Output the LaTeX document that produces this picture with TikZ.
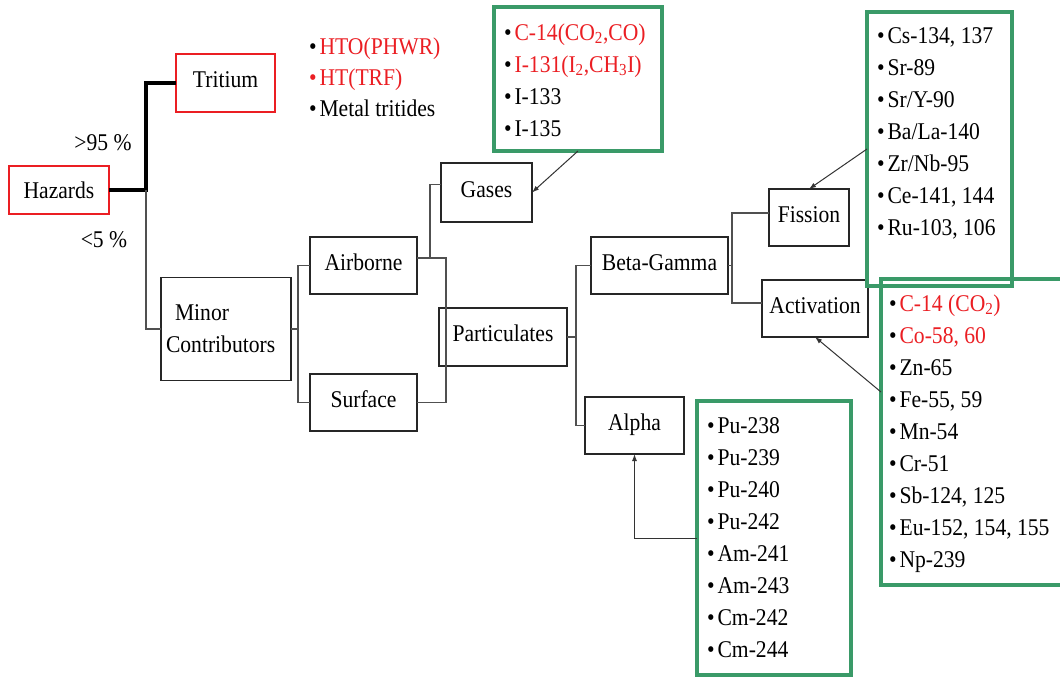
\documentclass[tikz,border=0pt]{standalone}
\usepackage{fontspec}
\setmainfont{Liberation Serif}[FakeStretch=0.9]
\usetikzlibrary{arrows.meta}
\definecolor{boxgreen}{RGB}{58,154,104}
\definecolor{hred}{RGB}{235,30,35}
\definecolor{lgray}{RGB}{80,80,80}
\tikzset{
  every node/.style={font=\fontsize{24}{32}\selectfont, inner sep=0pt, outer sep=0pt},
  box/.style={draw=black!85, line width=1.2pt, rectangle},
  hightext/.style={text height=17pt, text depth=8pt},
  redbox/.style={draw=hred, line width=1.2pt, rectangle},
  gbox/.style={draw=boxgreen, line width=3.2pt, rectangle},
  listtxt/.style={anchor=north west, align=left},
  conn/.style={draw=lgray, line width=1.3pt},
  thickconn/.style={draw=black, line width=3.8pt},
  arr/.style={draw=black!80, line width=1pt, -{Latex[length=7pt,width=5pt]}}
}
\begin{document}
\begin{tikzpicture}[x=1pt,y=-1pt]
\useasboundingbox (0,0) rectangle (1060,678);
\clip (0,0) rectangle (1060,678);
\fill[white] (0,0) rectangle (1060,678);

% main boxes
\node[redbox, minimum width=100pt, minimum height=48pt] (haz) at (59,190) {Hazards};
\node[redbox, hightext, minimum width=99pt, minimum height=58pt] (trit) at (225.5,83) {Tritium};
\node[box, minimum width=130pt, minimum height=103pt, text width=120pt, align=left] (minor) at (226,329) {\hspace*{9pt}Minor\\Contributors};
\node[box, hightext, minimum width=107pt, minimum height=57pt] (air) at (363.5,265.5) {Airborne};
\node[box, hightext, minimum width=107pt, minimum height=57pt] (surf) at (363.5,402.5) {Surface};
\node[box, hightext, minimum width=91pt, minimum height=59pt] (gas) at (486.5,192.5) {Gases};
\node[box, hightext, minimum width=128pt, minimum height=58pt] (part) at (503,337) {Particulates};
\node[box, hightext, minimum width=137pt, minimum height=57pt] (beta) at (659.5,265.5) {Beta-Gamma};
\node[box, hightext, minimum width=99pt, minimum height=57pt] (alpha) at (634.5,425.5) {Alpha};
\node[box, hightext, minimum width=80pt, minimum height=57pt] (fis) at (809,217.5) {Fission};
\node[box, hightext, minimum width=106pt, minimum height=57pt] (act) at (815,308.5) {Activation};

% percentage labels
\node (gt) at (103,143) {>95 \%};
\node (lt) at (104,240) {<5 \%};

% green boxes
\node[gbox, minimum width=168pt, minimum height=144pt] (gl) at (578,79) {};
\node[gbox, minimum width=145pt, minimum height=274pt] (fl) at (939.5,149) {};
\node[gbox, minimum width=184pt, minimum height=306pt] (al) at (973,432) {};
\node[gbox, minimum width=154pt, minimum height=274pt] (pl) at (774,538) {};

% lists
\node[listtxt, font=\fontsize{24}{31}\selectfont] (tlist) at (309,32.6) {\strut•\hspace{3pt}\textcolor{hred}{HTO(PHWR)}\\\textcolor{hred}{•\hspace{3pt}HT(TRF)}\\•\hspace{3pt}Metal tritides};
\node[listtxt] (gtxt) at (504,17.6) {\strut•\hspace{3pt}\textcolor{hred}{C-14(CO\textsubscript{2},CO)}\\•\hspace{3pt}\textcolor{hred}{I-131(I\textsubscript{2},CH\textsubscript{3}I)}\\•\hspace{3pt}I-133\\•\hspace{3pt}I-135};
\node[listtxt] (ftxt) at (877,20.6) {\strut•\hspace{3pt}Cs-134, 137\\•\hspace{3pt}Sr-89\\•\hspace{3pt}Sr/Y-90\\•\hspace{3pt}Ba/La-140\\•\hspace{3pt}Zr/Nb-95\\•\hspace{3pt}Ce-141, 144\\•\hspace{3pt}Ru-103, 106};
\node[listtxt] (atxt) at (889,288.6) {\strut•\hspace{3pt}\textcolor{hred}{C-14 (CO\textsubscript{2})}\\•\hspace{3pt}\textcolor{hred}{Co-58, 60}\\•\hspace{3pt}Zn-65\\•\hspace{3pt}Fe-55, 59\\•\hspace{3pt}Mn-54\\•\hspace{3pt}Cr-51\\•\hspace{3pt}Sb-124, 125\\•\hspace{3pt}Eu-152, 154, 155\\•\hspace{3pt}Np-239};
\node[listtxt] (ptxt) at (707,410.6) {\strut•\hspace{3pt}Pu-238\\•\hspace{3pt}Pu-239\\•\hspace{3pt}Pu-240\\•\hspace{3pt}Pu-242\\•\hspace{3pt}Am-241\\•\hspace{3pt}Am-243\\•\hspace{3pt}Cm-242\\•\hspace{3pt}Cm-244};

% junction coordinates
\coordinate (j1) at (146,190);
\coordinate (j2) at (298,329);
\coordinate (a1) at ([yshift=7.5pt]air.east);
\coordinate (j3) at (430,258);
\coordinate (j4) at (446,258);
\coordinate (j5) at (576,337);
\coordinate (j6) at (732,265.5);

% connectors
\draw[thickconn] (haz.east) -- (j1) |- (trit.west);
\draw[conn] (j1) |- (minor.west);
\draw[conn] (minor.east) -- (j2);
\draw[conn] (air.west) -| (j2) |- (surf.west);
\draw[conn] (a1) -- (j3) |- ([yshift=8pt]gas.west);
\draw[conn] (j3) -- (j4) |- (surf.east);
\draw[conn] (part.east) -- (j5);
\draw[conn] (beta.west) -| (j5) |- (alpha.west);
\draw[conn] (beta.east) -- (j6);
\draw[conn] ([yshift=4.5pt]fis.west) -| (j6) |- ([yshift=5.5pt]act.west);

% arrows
\draw[arr] (gl.south) -- (gas.east);
\draw[arr] (fl.west) -- (fis.north);
\draw[arr] ([yshift=40pt]al.west) -- (act.south);
\draw[arr] (pl.west) -| (alpha.south);
\end{tikzpicture}
\end{document}
